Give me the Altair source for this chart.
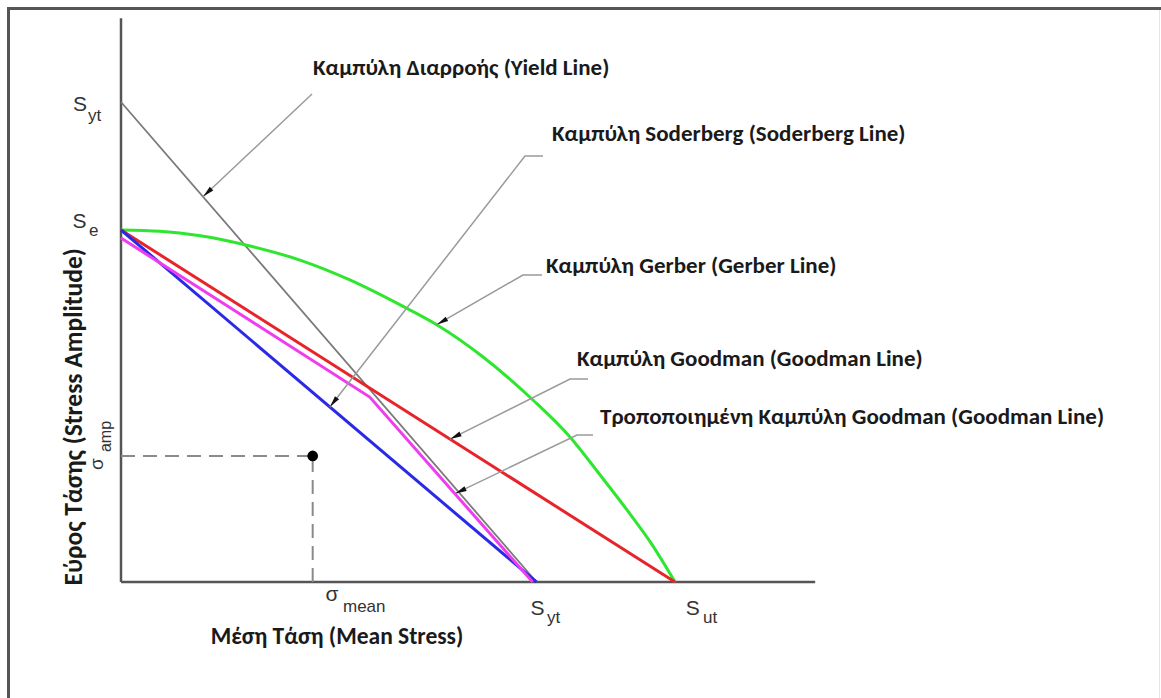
import math
import pandas as pd
import altair as alt

# ---- values (schematic stress units) ----
S_UT = 100.0          # ultimate tensile strength (x axis)
S_YT = 75.0           # yield strength (both axes)
S_E = 55.0            # endurance limit (y axis)
SIGMA_MEAN = 34.6     # operating point, mean stress
SIGMA_AMP = 19.7      # operating point, stress amplitude
X_AXIS_END = 125.3
Y_AXIS_TOP = 88.1

# Gerber curve, read point by point
gerber_x = [0, 7.0, 14.3, 23.3, 32.3, 41.3, 50.4, 57.0, 65.3, 74.4, 81.0, 86.5, 91.3, 95.5, 100]
gerber_y = [55, 54.8, 54.1, 52.5, 50.3, 47.2, 43.3, 40.2, 35.2, 28.4, 22.7, 16.7, 11.3, 6.3, 0]

# Modified Goodman (drawn just under the Goodman and yield lines)
modified_x = [0, 44.9, 74.3]
modified_y = [53.75, 28.9, 0]

# Straight lines: (x start, y start, x end, y end)
yield_line = [0, S_YT, S_YT, 0]
goodman_line = [0, S_E, S_UT, 0]
soderberg_line = [0, S_E, S_YT, 0]

# Callout labels and their leader lines
label_texts = [
    "Καμπύλη Διαρροής (Yield Line)",
    "Καμπύλη Soderberg (Soderberg Line)",
    "Καμπύλη Gerber (Gerber Line)",
    "Καμπύλη Goodman (Goodman Line)",
    "Τροποποιημένη Καμπύλη Goodman (Goodman Line)",
]
label_x = [34.66, 77.8, 76.71, 82.31, 86.46]
label_y = [80.31, 70.0, 49.38, 34.84, 25.78]
leader_x = [
    [34.48, 14.8],
    [76.17, 72.92, 37.7],
    [76.0, 72.56, 57.0],
    [84.3, 81.05, 59.4],
    [85.2, 82.31, 60.3],
]
leader_y = [
    [76.25, 60.2],
    [66.56, 66.56, 27.35],
    [47.97, 47.97, 40.2],
    [31.72, 31.72, 22.33],
    [22.97, 22.97, 13.8],
]

# ---- layout ----
W, H = 1161, 698
X0, Y0 = 121, 582        # where the origin sits in the view
KX, KY = 5.54, 6.4       # pixels per stress unit
x_dom = [-X0 / KX, (W - X0) / KX]
y_dom = [(Y0 - H) / KY, Y0 / KY]

xs = alt.Scale(domain=x_dom, nice=False, zero=False)
ys = alt.Scale(domain=y_dom, nice=False, zero=False)
X = lambda f="x": alt.X(f"{f}:Q", scale=xs, axis=None)
Y = lambda f="y": alt.Y(f"{f}:Q", scale=ys, axis=None)

LABEL_FONT = "Carlito, Lato, 'Open Sans', sans-serif"
SYM_FONT = "'Liberation Sans', Arial, sans-serif"


def seg(xa, ya, xb, yb):
    return pd.DataFrame({"x": [xa, xb], "y": [ya, yb], "o": [0, 1]})


def line_layer(df, color, width, **kw):
    return alt.Chart(df).mark_line(color=color, strokeWidth=width, clip=False, **kw).encode(
        x=X(), y=Y(), order="o:Q"
    )


layers = []

# axes
layers.append(line_layer(seg(0, 0, 0, Y_AXIS_TOP), "#555555", 2.5))
layers.append(line_layer(seg(0, 0, X_AXIS_END, 0), "#555555", 2.5))

# operating point guides
layers.append(line_layer(seg(0, SIGMA_AMP, SIGMA_MEAN, SIGMA_AMP), "#8a8a8a", 2, strokeDash=[14, 8]))
layers.append(line_layer(seg(SIGMA_MEAN, 0, SIGMA_MEAN, SIGMA_AMP), "#8a8a8a", 2, strokeDash=[14, 8]))

# failure criteria
layers.append(line_layer(seg(*yield_line), "#7a7a7a", 1.8))
gerber_df = pd.DataFrame({"x": gerber_x, "y": gerber_y, "o": range(len(gerber_x))})
layers.append(line_layer(gerber_df, "#2ee62e", 3, interpolate="monotone"))
layers.append(line_layer(seg(*goodman_line), "#e8232a", 3))
layers.append(line_layer(seg(*soderberg_line), "#2a2ae6", 3))
mod_df = pd.DataFrame({"x": modified_x, "y": modified_y, "o": range(len(modified_x))})
layers.append(line_layer(mod_df, "#f03cf0", 3))

# operating point
layers.append(
    alt.Chart(pd.DataFrame({"x": [SIGMA_MEAN], "y": [SIGMA_AMP]}))
    .mark_point(filled=True, color="#000000", size=115, opacity=1, clip=False)
    .encode(x=X(), y=Y())
)

# leader lines with arrowheads
rows, heads = [], []
for i, (lx, ly) in enumerate(zip(leader_x, leader_y)):
    for j, (a, b) in enumerate(zip(lx, ly)):
        rows.append({"x": a, "y": b, "o": j, "k": i})
    # direction of the last segment in screen space
    dxp = (lx[-1] - lx[-2]) * KX
    dyp = -(ly[-1] - ly[-2]) * KY
    n = math.hypot(dxp, dyp)
    ux, uy = dxp / n, dyp / n
    back = 6.0
    cx = lx[-1] - ux * back / KX
    cy = ly[-1] + uy * back / KY
    ang = math.degrees(math.atan2(ux, -uy)) % 360
    heads.append({"x": cx, "y": cy, "angle": ang})

layers.append(
    alt.Chart(pd.DataFrame(rows))
    .mark_line(color="#9a9a9a", strokeWidth=1.5, clip=False)
    .encode(x=X(), y=Y(), order="o:Q", detail="k:N")
)
layers.append(
    alt.Chart(pd.DataFrame(heads))
    .mark_point(shape="M0,-1L0.45,1L-0.45,1Z", filled=True, color="#111111", size=130, opacity=1, clip=False)
    .encode(x=X(), y=Y(), angle=alt.Angle("angle:Q", scale=None))
)

# callout labels
layers.append(
    alt.Chart(pd.DataFrame({"x": label_x, "y": label_y, "t": label_texts}))
    .mark_text(align="left", baseline="middle", font=LABEL_FONT, fontSize=23, fontWeight="bold",
               color="#1a1a1a", clip=False)
    .encode(x=X(), y=Y(), text="t:N")
)

# symbol labels: main letters and subscripts
main_sym = pd.DataFrame({
    "x": [-7.4, -7.49, 75.18, 103.2, 38.1],
    "y": [74.6, 56.25, -4.22, -4.22, -2.03],
    "t": ["S", "S", "S", "S", "σ"],
})
sub_sym = pd.DataFrame({
    "x": [-5.96, -5.78, 76.9, 105.05, 40.07],
    "y": [72.8, 54.84, -5.63, -5.55, -3.9],
    "t": ["yt", "e", "yt", "ut", "mean"],
})
layers.append(
    alt.Chart(main_sym)
    .mark_text(align="center", baseline="middle", font=SYM_FONT, fontSize=21, color="#333333", clip=False)
    .encode(x=X(), y=Y(), text="t:N")
)
layers.append(
    alt.Chart(sub_sym)
    .mark_text(align="left", baseline="middle", font=SYM_FONT, fontSize=17, color="#333333", clip=False)
    .encode(x=X(), y=Y(), text="t:N")
)
# rotated sigma_amp next to the y axis
layers.append(
    alt.Chart(pd.DataFrame({"x": [-4.33], "y": [18.4], "t": ["σ"]}))
    .mark_text(align="center", baseline="middle", angle=270, font=SYM_FONT, fontSize=19,
               color="#333333", clip=False)
    .encode(x=X(), y=Y(), text="t:N")
)
layers.append(
    alt.Chart(pd.DataFrame({"x": [-2.7], "y": [20.3], "t": ["amp"]}))
    .mark_text(align="left", baseline="middle", angle=270, font=SYM_FONT, fontSize=16,
               color="#333333", clip=False)
    .encode(x=X(), y=Y(), text="t:N")
)

# axis titles
layers.append(
    alt.Chart(pd.DataFrame({"x": [38.99], "y": [-8.59], "t": ["Μέση Τάση (Mean Stress)"]}))
    .mark_text(align="center", baseline="middle", font=LABEL_FONT, fontSize=23.5, fontWeight="bold",
               color="#1a1a1a", clip=False)
    .encode(x=X(), y=Y(), text="t:N")
)
layers.append(
    alt.Chart(pd.DataFrame({"x": [-8.4], "y": [25.8], "t": ["Εύρος Τάσης (Stress Amplitude)"]}))
    .mark_text(align="center", baseline="middle", angle=270, font=LABEL_FONT, fontSize=25.5,
               fontWeight="bold", color="#1a1a1a", clip=False)
    .encode(x=X(), y=Y(), text="t:N")
)

# outer frame
dummy = pd.DataFrame({"a": [0]})
layers.append(alt.Chart(dummy).mark_rule(color="#555555", strokeWidth=3).encode(
    x=alt.value(8.5), y=alt.value(7), y2=alt.value(H)))
layers.append(alt.Chart(dummy).mark_rule(color="#555555", strokeWidth=3).encode(
    x=alt.value(7), x2=alt.value(W), y=alt.value(8.5)))
layers.append(alt.Chart(dummy).mark_rule(color="#e6e6e6", strokeWidth=1).encode(
    x=alt.value(W - 1.5), y=alt.value(10), y2=alt.value(H)))

chart = (
    alt.layer(*layers)
    .properties(width=W, height=H, padding=0, autosize=alt.AutoSizeParams(type="none"),
                background="white")
    .configure_view(stroke=None)
)

chart.save("out.html", embed_options={"renderer": "svg", "actions": False})
